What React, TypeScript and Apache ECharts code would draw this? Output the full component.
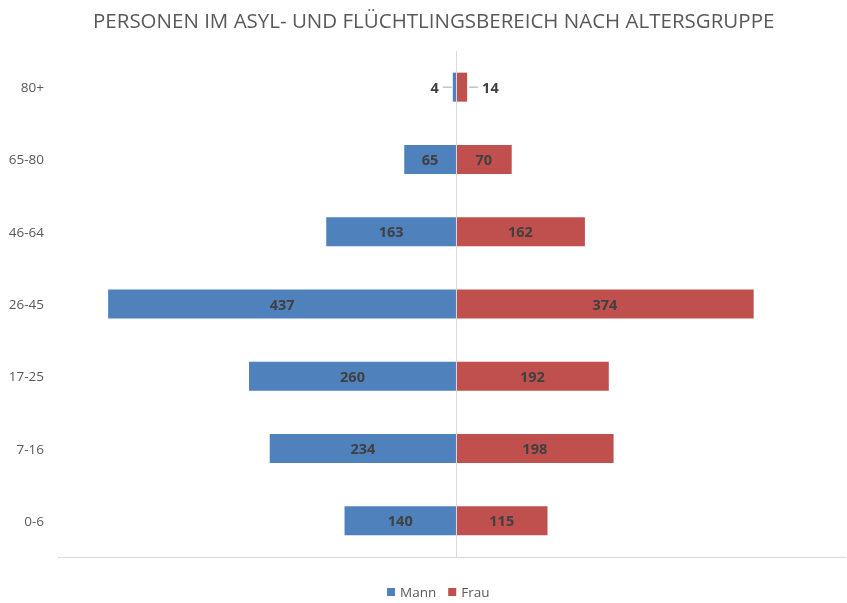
import React, { useEffect, useRef } from "react";
import * as echarts from "echarts";

const categories = ["0-6", "7-16", "17-25", "26-45", "46-64", "65-80", "80+"];
const mannValues = [140, 234, 260, 437, 163, 65, 4];
const frauValues = [115, 198, 192, 374, 162, 70, 14];
const seriesNames = ["Mann", "Frau"];
const titleText = "PERSONEN IM ASYL- UND FLÜCHTLINGSBEREICH NACH ALTERSGRUPPE";

const BLUE = "#4F81BD";
const RED = "#C0504D";
const LABEL = "#404040";
const AXIS_TXT = "#595959";
const LINE = "#D9D9D9";
const SMALL_LIMIT = 20;

export default function App() {
  const ref = useRef<HTMLDivElement>(null);
  useEffect(() => {
    if (!ref.current) return;
    const chart = echarts.init(ref.current, undefined, { renderer: "svg" });
    const font = "'Open Sans', 'Liberation Sans', sans-serif";
    const valueStyle = { fontFamily: font, fontSize: 14.5, fontWeight: "bold" as const, color: LABEL };
    const guide = { width: 9, height: 1, backgroundColor: "#A6A6A6" };
    const gap = { width: 4, height: 1 };

    const mannData = mannValues.map((v) => {
      if (v < SMALL_LIMIT) {
        return {
          value: -v,
          label: {
            show: true,
            position: "left",
            distance: 1,
            formatter: `{v|${v}}{s|}{g|}`,
            rich: { v: valueStyle, s: gap, g: guide },
          },
        };
      }
      return { value: -v };
    });
    const frauData = frauValues.map((v) => {
      if (v < SMALL_LIMIT) {
        return {
          value: v,
          label: {
            show: true,
            position: "right",
            distance: 2,
            formatter: `{g|}{s|}{v|${v}}`,
            rich: { v: valueStyle, s: gap, g: guide },
          },
        };
      }
      return { value: v };
    });

    chart.setOption({
      animation: false,
      title: {
        text: titleText,
        left: 88,
        top: 4,
        textStyle: { fontFamily: font, fontSize: 20.5, fontWeight: "normal", color: AXIS_TXT },
      },
      legend: {
        data: seriesNames,
        bottom: -1,
        left: 382,
        itemWidth: 8,
        itemHeight: 8,
        itemGap: 12,
        icon: "rect",
        textStyle: { fontFamily: font, fontSize: 13.5, color: AXIS_TXT },
      },
      grid: { left: 58, right: 1, top: 51, bottom: 46, containLabel: false },
      xAxis: {
        type: "value",
        min: -500,
        max: 490,
        axisLabel: { show: false },
        splitLine: { show: false },
        axisTick: { show: false },
        axisLine: { show: true, onZero: false, lineStyle: { color: LINE, width: 1 } },
      },
      yAxis: {
        type: "category",
        data: categories,
        axisLine: { show: false },
        axisTick: { show: false },
        axisLabel: { fontFamily: font, fontSize: 13.5, color: AXIS_TXT, margin: 14 },
      },
      series: [
        {
          name: seriesNames[0],
          type: "bar",
          barWidth: 29,
          barGap: "-100%",
          itemStyle: { color: BLUE },
          label: {
            show: true,
            position: "inside",
            ...valueStyle,
            formatter: (p: any) => String(Math.abs(p.value)),
          },
          data: mannData,
          markLine: {
            silent: true,
            symbol: "none",
            label: { show: false },
            lineStyle: { color: LINE, width: 1, type: "solid" },
            data: [{ xAxis: 0 }],
          },
        },
        {
          name: seriesNames[1],
          type: "bar",
          barWidth: 29,
          barGap: "-100%",
          itemStyle: { color: RED },
          label: {
            show: true,
            position: "inside",
            ...valueStyle,
            formatter: (p: any) => String(p.value),
          },
          data: frauData,
        },
      ],
    });
    return () => chart.dispose();
  }, []);
  return (
    <div
      ref={ref}
      style={{ position: "fixed", left: 0, top: 0, width: 847, height: 603 }}
    />
  );
}
